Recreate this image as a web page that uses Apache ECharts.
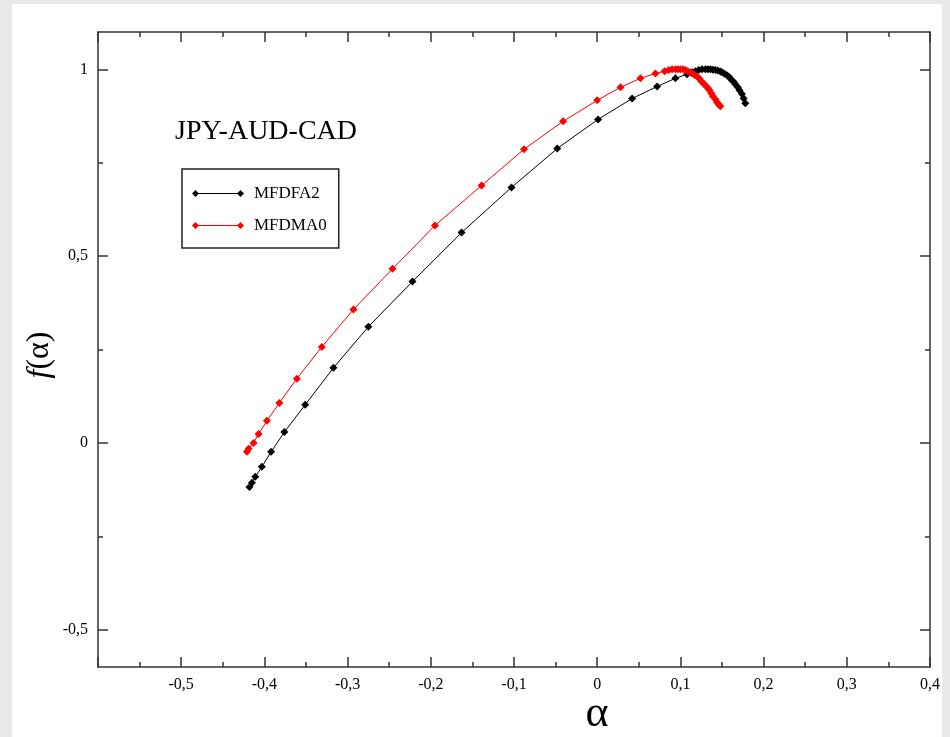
<!DOCTYPE html>
<html>
<head>
<meta charset="utf-8">
<script src="https://cdn.jsdelivr.net/npm/echarts@6/dist/echarts.min.js"></script>
<style>
  html, body { margin: 0; padding: 0; background: #e9e9e9; }
  #chart { width: 950px; height: 737px; }
</style>
</head>
<body>
<div id="chart"></div>
<script>
// Multifractal spectrum f(alpha) for JPY-AUD-CAD, two estimation methods
const seriesNames = ['MFDFA2', 'MFDMA0'];

const alphaMFDFA2 = [-0.418, -0.415, -0.411, -0.403, -0.392, -0.376, -0.351, -0.317, -0.275, -0.222, -0.163, -0.103, -0.048, 0.001, 0.042, 0.072, 0.094, 0.108, 0.114, 0.118, 0.122, 0.126, 0.130, 0.133, 0.136, 0.139, 0.142, 0.145, 0.148, 0.150, 0.153, 0.156, 0.159, 0.161, 0.164, 0.166, 0.169, 0.171, 0.174, 0.176, 0.178];
const fMFDFA2     = [-0.118, -0.107, -0.091, -0.064, -0.024, 0.029, 0.102, 0.201, 0.311, 0.432, 0.563, 0.684, 0.788, 0.866, 0.922, 0.954, 0.976, 0.987, 0.992, 0.995, 0.998, 1.000, 1.000, 1.000, 1.000, 0.999, 0.998, 0.997, 0.994, 0.992, 0.988, 0.984, 0.979, 0.973, 0.967, 0.960, 0.952, 0.944, 0.934, 0.922, 0.909];

const alphaMFDMA0 = [-0.421, -0.419, -0.413, -0.407, -0.397, -0.382, -0.361, -0.331, -0.293, -0.246, -0.195, -0.139, -0.088, -0.041, 0.000, 0.028, 0.052, 0.070, 0.081, 0.086, 0.090, 0.094, 0.097, 0.100, 0.103, 0.106, 0.109, 0.112, 0.114, 0.117, 0.120, 0.123, 0.125, 0.128, 0.130, 0.133, 0.135, 0.137, 0.139, 0.142, 0.144, 0.146, 0.148];
const fMFDMA0     = [-0.024, -0.016, 0.000, 0.024, 0.059, 0.107, 0.172, 0.257, 0.357, 0.466, 0.582, 0.689, 0.786, 0.861, 0.917, 0.952, 0.976, 0.989, 0.995, 0.998, 1.000, 1.000, 1.000, 1.000, 1.000, 0.998, 0.995, 0.992, 0.989, 0.985, 0.981, 0.975, 0.968, 0.962, 0.957, 0.950, 0.944, 0.936, 0.928, 0.920, 0.912, 0.906, 0.901];

const xTicks = [-0.6, 0.4, 0.1];          // min, max, interval
const yRange = [-0.6, 1.1];
const yMajorTicks = [-0.5, 0, 0.5, 1];
const yMinorTicks = [-0.25, 0.25, 0.75];

const fmt = v => {
  if (Math.abs(v + 0.6) < 1e-9) return '';
  const r = Math.round(v * 100) / 100;
  return String(r).replace('.', ',');
};

const pair = (xs, ys) => xs.map((x, i) => [x, ys[i]]);

const serif = 'Liberation Serif, Times New Roman, serif';
const axisColor = '#333';
const lineW = 1.5;

const baseX = {
  type: 'value', min: xTicks[0], max: xTicks[1], interval: xTicks[2],
  axisLine: { show: true, onZero: false, lineStyle: { color: axisColor, width: lineW } },
  axisTick: { show: true, inside: true, length: 10, lineStyle: { color: axisColor, width: lineW } },
  minorTick: { show: true, splitNumber: 2, length: 5, lineStyle: { color: axisColor, width: lineW } },
  splitLine: { show: false }, minorSplitLine: { show: false }
};

const baseY = {
  type: 'value', min: yRange[0], max: yRange[1],
  axisLine: { show: true, onZero: false, lineStyle: { color: axisColor, width: lineW } },
  splitLine: { show: false }
};

const majorY = (pos, labels) => Object.assign({}, baseY, {
  position: pos,
  axisTick: { show: true, inside: true, length: 10, customValues: yMajorTicks, lineStyle: { color: axisColor, width: lineW } },
  axisLabel: labels ? { show: true, customValues: yMajorTicks, formatter: fmt, fontFamily: serif, fontSize: 16, color: '#000', margin: 10 } : { show: false }
});
const minorY = pos => Object.assign({}, baseY, {
  position: pos,
  axisLine: { show: false, onZero: false },
  axisTick: { show: true, inside: true, length: 5, customValues: yMinorTicks, lineStyle: { color: axisColor, width: lineW } },
  axisLabel: { show: false }
});

const chart = echarts.init(document.getElementById('chart'));
chart.setOption({
  backgroundColor: '#e9e9e9',
  animation: false,
  graphic: [
    { type: 'rect', z: -10, silent: true, shape: { x: 12, y: 4, width: 930, height: 733 }, style: { fill: '#ffffff' } },
    { type: 'text', left: 175, top: 118, style: { text: 'JPY-AUD-CAD', font: '28px ' + serif, fill: '#000' } },
    { type: 'text', x: 597, y: 714, style: { text: 'α', font: '44px ' + serif, fill: '#000', align: 'center', verticalAlign: 'middle' } },
    {
      type: 'text', x: 40, y: 355, rotation: Math.PI / 2,
      style: {
        text: '{i|f}{n|(α)}', align: 'center', verticalAlign: 'middle',
        rich: {
          i: { font: 'italic 32px ' + serif, fill: '#000' },
          n: { font: '32px ' + serif, fill: '#000' }
        }
      }
    }
  ],
  grid: { left: 98, right: 20, top: 32, bottom: 70, show: false },
  legend: {
    orient: 'vertical', left: 182, top: 169,
    padding: [16, 12, 14, 10],
    itemGap: 15,
    itemWidth: 52, itemHeight: 8,
    borderColor: '#222', borderWidth: 1.5, backgroundColor: '#fff',
    textStyle: { fontFamily: serif, fontSize: 17, color: '#000', padding: [0, 0, 0, 5] },
    data: seriesNames.map(n => ({
      name: n,
      icon: 'path://M0,4 L3.5,0.5 L7,4 L3.5,7.5 Z M3.5,3.4 L48.5,3.4 L48.5,4.6 L3.5,4.6 Z M45,4 L48.5,0.5 L52,4 L48.5,7.5 Z'
    }))
  },
  xAxis: [
    Object.assign({}, baseX, {
      position: 'bottom',
      axisLabel: { show: true, formatter: fmt, fontFamily: serif, fontSize: 16, color: '#000', margin: 10 }
    }),
    Object.assign({}, baseX, { position: 'top', axisLabel: { show: false } })
  ],
  yAxis: [majorY('left', true), minorY('left'), majorY('right', false), minorY('right')],
  series: [
    {
      name: seriesNames[0], type: 'line', xAxisIndex: 0, yAxisIndex: 0,
      data: pair(alphaMFDFA2, fMFDFA2),
      symbol: 'diamond', symbolSize: 8, showAllSymbol: true,
      itemStyle: { color: '#000' },
      lineStyle: { color: '#000', width: 1 }
    },
    {
      name: seriesNames[1], type: 'line', xAxisIndex: 0, yAxisIndex: 0,
      data: pair(alphaMFDMA0, fMFDMA0),
      symbol: 'diamond', symbolSize: 8, showAllSymbol: true,
      itemStyle: { color: '#ff0000' },
      lineStyle: { color: '#ff0000', width: 1 }
    }
  ]
});
</script>
</body>
</html>
